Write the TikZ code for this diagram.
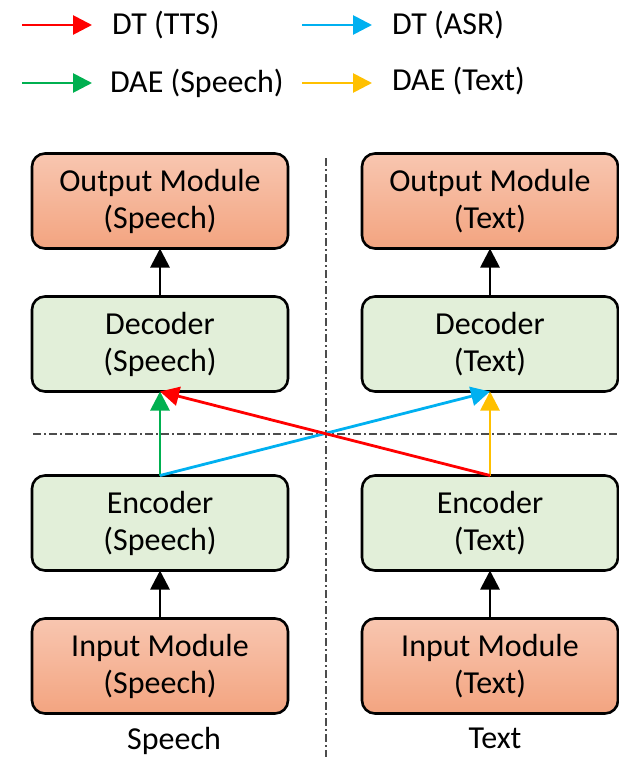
\documentclass[tikz,border=0pt]{standalone}
\usepackage{fontspec}
\setmainfont{Carlito}
\usepackage{tikz}
\usetikzlibrary{positioning, arrows.meta}

\definecolor{modtop}{RGB}{248,198,176}
\definecolor{modbot}{RGB}{243,164,128}
\definecolor{blockfill}{RGB}{226,239,217}
\definecolor{ttsred}{RGB}{255,0,0}
\definecolor{asrblue}{RGB}{0,176,240}
\definecolor{daegreen}{RGB}{0,176,80}
\definecolor{daeyellow}{RGB}{255,192,0}

\begin{document}
\begin{tikzpicture}[
  x=1pt, y=-1pt,
  font=\fontsize{32}{37}\selectfont,
  box/.style={draw, line width=2.6pt, rounded corners=13pt, minimum width=256pt,
    minimum height=95pt, align=center, inner sep=0pt, outer sep=0pt},
  module/.style={box, top color=modtop, bottom color=modbot},
  block/.style={box, fill=blockfill},
  key/.style={inner sep=0pt, outer sep=0pt},
  flow/.style={-{Triangle[length=19pt,width=19pt]}, line width=2.8pt},
  divider/.style={line width=1.3pt, black!70, dash pattern=on 8pt off 3pt on 2pt off 3pt},
]
  \useasboundingbox (0,0) rectangle (618,757);

  % legend
  \coordinate (tts0) at (22,25);
  \coordinate[right=70pt of tts0] (tts1);
  \node[key, right=20pt of tts1] (tts) {DT (TTS)};
  \coordinate (asr0) at (302,25);
  \coordinate[right=70pt of asr0] (asr1);
  \node[key, right=20pt of asr1] (asr) {DT (ASR)};
  \coordinate (daes0) at (22,83);
  \coordinate[right=70pt of daes0] (daes1);
  \node[key, right=18pt of daes1] (daes) {DAE (Speech)};
  \coordinate (daet0) at (302,83);
  \coordinate[right=70pt of daet0] (daet1);
  \node[key, right=20pt of daet1, yshift=2pt] (daet) {DAE (Text)};

  \draw[flow, ttsred] (tts0) -- (tts1);
  \draw[flow, asrblue] (asr0) -- (asr1);
  \draw[flow, daegreen] (daes0) -- (daes1);
  \draw[flow, daeyellow] (daet0) -- (daet1);

  % dividers
  \coordinate (vtop) at (326,158);
  \coordinate (vbot) at (326,757);
  \coordinate (hleft) at (33,434);
  \coordinate (hright) at (618,434);
  \draw[divider] (vtop) -- (vbot);
  \draw[divider] (hleft) -- (hright);

  % speech side
  \node[module] (outS) at (160,201) {Output Module\\(Speech)};
  \node[block, below=48pt of outS]  (decS) {Decoder\\(Speech)};
  \node[block, below=84pt of decS]  (encS) {Encoder\\(Speech)};
  \node[module, below=48pt of encS] (inS)  {Input Module\\(Speech)};
  \node[key, below=14pt of inS, xshift=14pt] (spch) {Speech};

  % text side
  \node[module, right=74pt of outS] (outT) {Output Module\\(Text)};
  \node[block, below=48pt of outT]  (decT) {Decoder\\(Text)};
  \node[block, below=84pt of decT]  (encT) {Encoder\\(Text)};
  \node[module, below=48pt of encT] (inT)  {Input Module\\(Text)};
  \node[key, below=14pt of inT, xshift=5pt] (txt) {Text};

  \draw[flow] (inS) -- (encS);
  \draw[flow] (decS) -- (outS);
  \draw[flow] (inT) -- (encT);
  \draw[flow] (decT) -- (outT);

  \draw[flow, daegreen] (encS.north) -- (decS.south);
  \draw[flow, daeyellow] (encT.north) -- (decT.south);
  \draw[flow, asrblue] (encS.north) -- (decT.south);
  \draw[flow, ttsred] (encT.north) -- (decS.south);
\end{tikzpicture}
\end{document}
